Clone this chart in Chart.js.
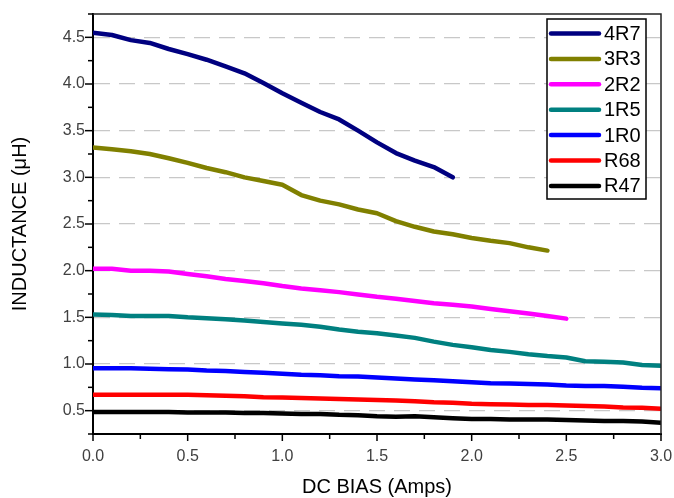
<!DOCTYPE html>
<html>
<head>
<meta charset="utf-8">
<script src="https://cdn.jsdelivr.net/npm/chart.js@4.4.1/dist/chart.umd.min.js"></script>
<style>
html,body{margin:0;padding:0;background:#fff;}
#wrap{width:674px;height:498px;position:relative;}
</style>
</head>
<body>
<div id="wrap"><canvas id="c"></canvas></div>
<script>
// ---- data ----
const X_VALUES = [0.0,0.1,0.2,0.3,0.4,0.5,0.6,0.7,0.8,0.9,1.0,1.1,1.2,1.3,1.4,1.5,1.6,1.7,1.8,1.9,2.0,2.1,2.2,2.3,2.4,2.5,2.6,2.7,2.8,2.9,3.0];
const SERIES_NAMES = ['4R7','3R3','2R2','1R5','1R0','R68','R47'];
const V_4R7 = [4.55,4.525,4.47,4.44,4.375,4.32,4.26,4.19,4.115,4.01,3.90,3.80,3.70,3.62,3.50,3.375,3.26,3.18,3.11,3.0];
const V_3R3 = [3.32,3.30,3.28,3.25,3.205,3.155,3.10,3.055,3.0,2.96,2.92,2.81,2.75,2.71,2.655,2.615,2.53,2.47,2.42,2.39,2.35,2.32,2.295,2.25,2.215];
const V_2R2 = [2.02,2.02,2.00,2.00,1.99,1.965,1.94,1.91,1.89,1.865,1.835,1.81,1.79,1.77,1.745,1.72,1.70,1.675,1.65,1.635,1.615,1.59,1.565,1.54,1.515,1.486];
const V_1R5 = [1.53,1.525,1.515,1.515,1.515,1.50,1.49,1.48,1.465,1.45,1.435,1.42,1.40,1.37,1.345,1.33,1.305,1.28,1.24,1.205,1.18,1.15,1.13,1.105,1.085,1.07,1.03,1.025,1.015,0.99,0.98];
const V_1R0 = [0.955,0.955,0.955,0.95,0.945,0.94,0.93,0.925,0.915,0.905,0.895,0.885,0.88,0.87,0.865,0.855,0.845,0.835,0.825,0.815,0.805,0.795,0.79,0.785,0.78,0.77,0.765,0.765,0.755,0.745,0.74];
const V_R68 = [0.67,0.67,0.67,0.67,0.67,0.67,0.665,0.66,0.655,0.645,0.64,0.635,0.63,0.625,0.62,0.615,0.61,0.60,0.59,0.585,0.575,0.57,0.565,0.56,0.56,0.555,0.55,0.545,0.535,0.53,0.52];
const V_R47 = [0.485,0.485,0.485,0.485,0.485,0.48,0.48,0.48,0.475,0.475,0.47,0.465,0.465,0.455,0.45,0.44,0.435,0.44,0.43,0.42,0.41,0.41,0.405,0.405,0.405,0.40,0.395,0.39,0.39,0.385,0.37];
const X_TICK_LABELS = ['0.0','0.5','1.0','1.5','2.0','2.5','3.0'];
const Y_TICK_LABELS = ['0.5','1.0','1.5','2.0','2.5','3.0','3.5','4.0','4.5'];

const COLORS = ['#000080','#808000','#ff00ff','#008080','#0000ff','#ff0000','#000000'];
const ALL_VALUES = [V_4R7,V_3R3,V_2R2,V_1R5,V_1R0,V_R68,V_R47];

function pts(vals){ return vals.map((v,i)=>({x:X_VALUES[i], y:v})); }

const datasets = SERIES_NAMES.map((n,i)=>({
  label:n, data:pts(ALL_VALUES[i]), borderColor:COLORS[i], backgroundColor:COLORS[i],
  borderWidth:4.5, pointRadius:0, tension:0, fill:false,
  borderCapStyle:'round', borderJoinStyle:'round'
}));

function isMajor(v){ return Math.abs(v*2-Math.round(v*2))<1e-6; }
function fmt(v){ return v.toFixed(1); }

const framePlugin = {
  id:'frame',
  afterDraw(chart){
    const ctx = chart.ctx, a = chart.chartArea;
    ctx.save();
    // top & right frame
    ctx.strokeStyle = '#222'; ctx.lineWidth = 1.5;
    ctx.beginPath();
    ctx.moveTo(a.left, a.top); ctx.lineTo(a.right, a.top); ctx.lineTo(a.right, a.bottom);
    ctx.stroke();
    // outward ticks
    ctx.strokeStyle = '#000'; ctx.lineWidth = 1.5;
    const xs = chart.scales.x, ys = chart.scales.y;
    xs.ticks.forEach(t=>{
      const p = xs.getPixelForValue(t.value); const L = isMajor(t.value)?7:5;
      ctx.beginPath(); ctx.moveTo(p, a.bottom); ctx.lineTo(p, a.bottom+L); ctx.stroke();
    });
    ys.ticks.forEach(t=>{
      const p = ys.getPixelForValue(t.value); const L = isMajor(t.value)?8:5;
      ctx.beginPath(); ctx.moveTo(a.left, p); ctx.lineTo(a.left-L, p); ctx.stroke();
    });
    // legend
    const bx=547, by=19, bw=99, bh=180;
    ctx.fillStyle='#fff'; ctx.fillRect(bx,by,bw,bh);
    ctx.strokeStyle='#000'; ctx.lineWidth=1.5; ctx.strokeRect(bx,by,bw,bh);
    ctx.font = '20px "Liberation Sans", Arial, sans-serif';
    ctx.textBaseline='middle'; ctx.textAlign='left';
    chart.data.datasets.forEach((d,i)=>{
      const y = by + 14.5 + i*25.4;
      ctx.strokeStyle = d.borderColor; ctx.lineWidth=4.5; ctx.lineCap='round';
      ctx.beginPath(); ctx.moveTo(551,y); ctx.lineTo(599,y); ctx.stroke();
      ctx.fillStyle='#000'; ctx.fillText(d.label, 604, y+1);
    });
    ctx.restore();
  }
};

new Chart(document.getElementById('c'), {
  type:'line',
  data:{ datasets },
  options:{
    responsive:true, maintainAspectRatio:false, animation:false,
    layout:{ padding:{ top:14, right:13, left:0, bottom:0 } },
    plugins:{ legend:{display:false}, tooltip:{enabled:false} },
    scales:{
      x:{
        type:'linear', min:0, max:3.0,
        afterFit(s){ s.height = 64; s.paddingLeft = 0; s.paddingRight = 0; },
        ticks:{ stepSize:0.25, autoSkip:false, maxRotation:0, padding:6, color:'#404040',
          font:{ family:'"Liberation Sans", Arial, sans-serif', size:16 },
          callback:(v)=>{ if(!isMajor(v)) return ''; const s=fmt(v); return X_TICK_LABELS.includes(s)?s:''; } },
        grid:{ drawOnChartArea:false, drawTicks:true, tickLength:7, tickColor:'rgba(0,0,0,0)' },
        border:{ color:'#000', width:2 },
        title:{ display:true, text:'DC BIAS (Amps)', color:'#000',
          font:{ family:'"Liberation Sans", Arial, sans-serif', size:20, lineHeight:1.0 },
          padding:{ top:0, bottom:1 } }
      },
      y:{
        type:'linear', min:0.25, max:4.75,
        afterFit(s){ s.width = 93; s.paddingTop = 0; s.paddingBottom = 0; },
        ticks:{ stepSize:0.25, autoSkip:false, padding:0, color:'#404040',
          font:{ family:'"Liberation Sans", Arial, sans-serif', size:16 },
          callback:(v)=>{ if(!isMajor(v)) return ''; const s=fmt(v); return Y_TICK_LABELS.includes(s)?s:''; } },
        grid:{ drawTicks:true, tickLength:8, tickColor:'rgba(0,0,0,0)',
          color:(c)=>{ const v=c.tick?c.tick.value:0; return (isMajor(v) && v>0.3 && v<4.7)?'#c8c8c8':'rgba(0,0,0,0)'; },
          lineWidth:1.2 },
        border:{ color:'#000', width:2, dash:[16,9] },
        title:{ display:true, text:'INDUCTANCE (\u03bcH)', color:'#000',
          font:{ family:'"Liberation Sans", Arial, sans-serif', size:20, lineHeight:1.2 },
          padding:{ top:8, bottom:0 } }
      }
    }
  },
  plugins:[framePlugin]
});
</script>
</body>
</html>
